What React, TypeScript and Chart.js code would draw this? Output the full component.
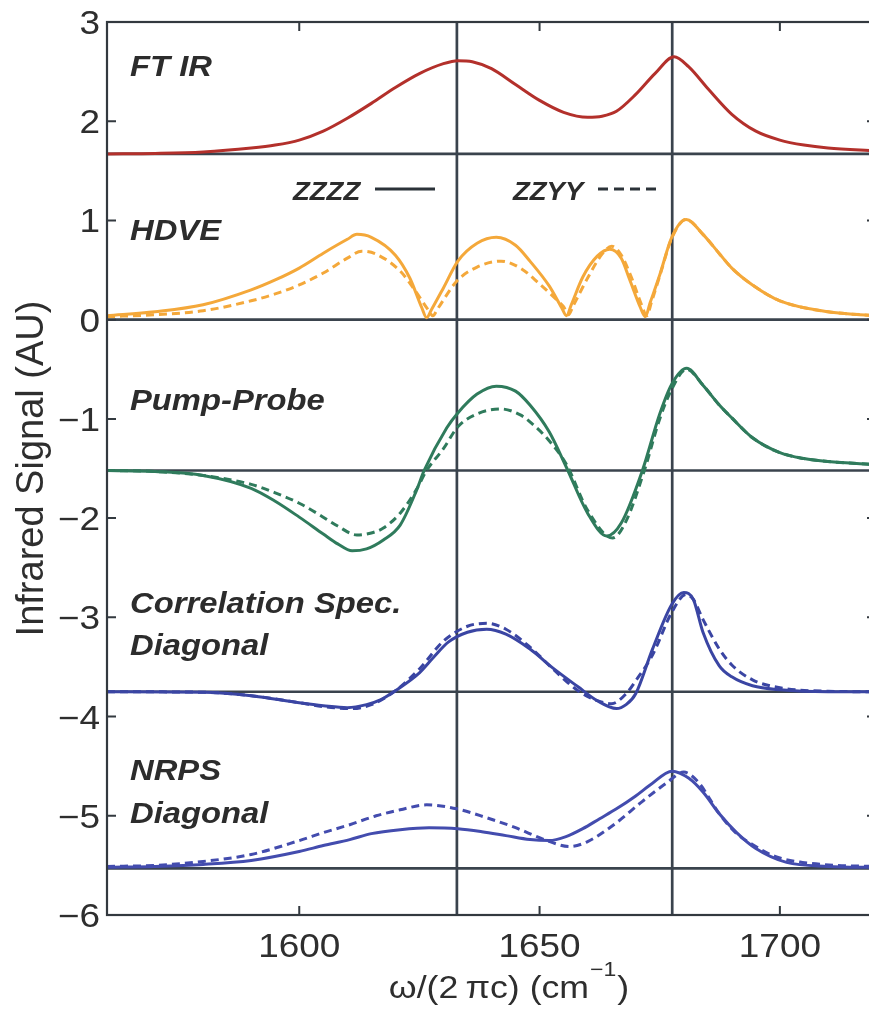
import React, { useEffect, useRef } from "react";
import { Chart, registerables } from "chart.js";

Chart.register(...registerables);

// ---------- axes ----------
const X_MIN = 1560;
const X_MAX = 1720;
const Y_MIN = -6;
const Y_MAX = 3;
const xTicks = [1600, 1650, 1700];
const xTickLabels = ["1600", "1650", "1700"];
const yTicks = [-6, -5, -4, -3, -2, -1, 0, 1, 2, 3];
const yTickLabels = ["−6", "−5", "−4", "−3", "−2", "−1", "0", "1", "2", "3"];
const xTitle = "ω/(2\u2009πc) (cm";
const xTitleSup = "−1";
const yTitle = "Infrared Signal (AU)";

// reference lines
const baselines = [1.67, 0, -1.52, -3.75, -5.53];
const markerLines = [1632.8, 1677.6];

// ---------- FT IR ----------
const ftirX = [1560, 1570, 1580, 1590, 1595, 1600, 1605, 1610, 1615, 1620, 1625, 1630, 1633, 1636, 1640, 1645, 1650, 1655, 1660, 1663, 1666, 1670, 1674, 1678, 1681, 1685, 1690, 1695, 1700, 1705, 1710, 1720];
const ftirY = [1.67, 1.675, 1.69, 1.73, 1.76, 1.81, 1.9, 2.03, 2.18, 2.34, 2.48, 2.58, 2.61, 2.6, 2.53, 2.37, 2.21, 2.09, 2.04, 2.05, 2.1, 2.27, 2.48, 2.65, 2.55, 2.33, 2.07, 1.9, 1.81, 1.76, 1.73, 1.7];

// ---------- HDVE ----------
const hdveZX = [1560, 1570, 1580, 1590, 1595, 1600, 1605, 1610, 1612, 1615, 1620, 1623, 1625.5, 1626.5, 1627.5, 1630, 1633, 1637, 1641, 1645, 1648, 1652, 1654.6, 1655.6, 1656.6, 1659, 1662, 1664.6, 1667, 1668.7, 1671, 1672, 1673, 1675, 1677.5, 1680.5, 1684, 1687.5, 1690, 1694.3, 1700, 1710, 1720];
const hdveZY = [0.04, 0.08, 0.15, 0.3, 0.4, 0.52, 0.67, 0.81, 0.86, 0.83, 0.65, 0.42, 0.12, 0.02, 0.1, 0.32, 0.59, 0.77, 0.83, 0.75, 0.59, 0.34, 0.12, 0.04, 0.15, 0.43, 0.64, 0.71, 0.62, 0.41, 0.12, 0.03, 0.17, 0.45, 0.83, 1.01, 0.86, 0.66, 0.52, 0.35, 0.19, 0.08, 0.04];
const hdveYX = [1560, 1570, 1580, 1590, 1595, 1600, 1605, 1610, 1613, 1616, 1621, 1624, 1626.8, 1627.8, 1628.8, 1632.8, 1637, 1642, 1646, 1650, 1654, 1655, 1656, 1657, 1660, 1663, 1665, 1667, 1669, 1671.3, 1672.3, 1673.3, 1675, 1677.5, 1680.5, 1684, 1687.5, 1690, 1694.3, 1700, 1710, 1720];
const hdveYY = [0.03, 0.05, 0.09, 0.19, 0.26, 0.35, 0.47, 0.62, 0.69, 0.66, 0.49, 0.3, 0.1, 0.04, 0.11, 0.39, 0.53, 0.59, 0.52, 0.36, 0.18, 0.13, 0.05, 0.14, 0.42, 0.66, 0.74, 0.65, 0.44, 0.14, 0.04, 0.18, 0.44, 0.82, 1.01, 0.86, 0.66, 0.52, 0.35, 0.19, 0.08, 0.04];

// ---------- Pump-Probe ----------
const ppZX = [1560, 1570, 1580, 1590, 1595, 1600, 1605, 1608, 1611, 1614, 1617.5, 1621, 1624.4, 1626, 1630.7, 1633, 1637, 1641, 1645, 1648, 1652, 1655.6, 1660, 1664, 1667, 1671.4, 1675, 1677.5, 1680.6, 1684, 1687.4, 1690, 1694.3, 1700, 1705, 1710, 1720];
const ppZY = [-1.52, -1.53, -1.57, -1.7, -1.83, -1.99, -2.16, -2.26, -2.33, -2.31, -2.22, -2.07, -1.72, -1.52, -1.09, -0.94, -0.75, -0.67, -0.72, -0.86, -1.13, -1.49, -1.95, -2.18, -2.05, -1.52, -0.95, -0.65, -0.49, -0.66, -0.86, -0.99, -1.19, -1.34, -1.4, -1.43, -1.46];
const ppYX = [1560, 1570, 1580, 1590, 1595, 1600, 1604, 1608, 1612, 1615, 1617.5, 1621, 1624.4, 1626.5, 1630, 1633, 1637, 1642, 1646, 1648, 1652, 1655.6, 1660, 1665.2, 1668, 1671.8, 1675, 1677.5, 1680.6, 1684, 1687.4, 1690, 1694.3, 1700, 1705, 1710, 1720];
const ppYY = [-1.52, -1.53, -1.57, -1.66, -1.745, -1.85, -1.96, -2.08, -2.17, -2.15, -2.1, -1.95, -1.71, -1.52, -1.3, -1.08, -0.95, -0.9, -0.96, -1.03, -1.22, -1.46, -1.92, -2.2, -2.03, -1.52, -1.0, -0.7, -0.5, -0.66, -0.86, -0.99, -1.19, -1.34, -1.4, -1.43, -1.46];

// ---------- Correlation Spec. Diagonal ----------
const csZX = [1560, 1580, 1590, 1600, 1605, 1610, 1614, 1617, 1620, 1625, 1628, 1631, 1635, 1639, 1643, 1648, 1653, 1658, 1662, 1666, 1668, 1670, 1673.5, 1677.5, 1680, 1682, 1684, 1687.4, 1690, 1694.3, 1700, 1710, 1720];
const csZY = [-3.75, -3.755, -3.79, -3.86, -3.89, -3.91, -3.88, -3.83, -3.74, -3.56, -3.4, -3.25, -3.15, -3.12, -3.17, -3.32, -3.52, -3.7, -3.84, -3.92, -3.88, -3.77, -3.32, -2.87, -2.75, -2.82, -3.15, -3.49, -3.6, -3.69, -3.73, -3.75, -3.75];
const csYX = [1560, 1580, 1590, 1600, 1605, 1611, 1615, 1620, 1625, 1630, 1635, 1639, 1643, 1648, 1653, 1658, 1662, 1665, 1668, 1670, 1673.5, 1677.5, 1680.5, 1682, 1684, 1687.4, 1690, 1694.3, 1700, 1710, 1720];
const csYY = [-3.75, -3.755, -3.79, -3.86, -3.9, -3.92, -3.88, -3.74, -3.52, -3.24, -3.09, -3.06, -3.12, -3.3, -3.53, -3.74, -3.84, -3.87, -3.77, -3.64, -3.38, -2.95, -2.77, -2.82, -3.02, -3.32, -3.48, -3.63, -3.71, -3.745, -3.75];

// ---------- NRPS Diagonal ----------
const nrZX = [1560, 1570, 1580, 1590, 1600, 1605, 1610.5, 1615, 1621, 1627, 1633, 1638, 1643, 1648, 1652, 1655.5, 1659, 1662.5, 1666, 1670, 1673, 1677.6, 1681, 1684, 1687.4, 1691, 1695, 1701.4, 1710, 1720];
const nrZY = [-5.52, -5.51, -5.49, -5.45, -5.36, -5.3, -5.24, -5.18, -5.14, -5.12, -5.13, -5.16, -5.2, -5.24, -5.25, -5.21, -5.13, -5.03, -4.93, -4.8, -4.69, -4.55, -4.62, -4.76, -4.98, -5.17, -5.33, -5.47, -5.51, -5.52];
const nrYX = [1560, 1570, 1580, 1590, 1600, 1605, 1610.5, 1616, 1621, 1626.5, 1632.8, 1639, 1645, 1651, 1656.3, 1660, 1666, 1671, 1676.4, 1680, 1683, 1687.4, 1691, 1694.3, 1699, 1704.7, 1712, 1720];
const nrYY = [-5.51, -5.5, -5.46, -5.39, -5.25, -5.17, -5.09, -5.0, -4.94, -4.89, -4.93, -5.02, -5.12, -5.24, -5.31, -5.26, -5.07, -4.87, -4.67, -4.56, -4.66, -4.98, -5.18, -5.29, -5.41, -5.47, -5.5, -5.51];

// ---------- labels ----------
const panelLabels = ["FT IR", "HDVE", "Pump-Probe", "Correlation Spec.", "Diagonal", "NRPS", "Diagonal"];
const legendLabels = ["ZZZZ", "ZZYY"];

// ---------- styling ----------
const RED = "#b3302b";
const ORANGE = "#f4a83a";
const GREEN = "#2f7b5c";
const BLUE = "#3a45a3";
const BLUE2 = "#434cae";
const AXIS = "#33393f";
const REF = "#3a434d";
const TEXT = "#2c2c2c";

const CANVAS_W = 890;
const CANVAS_H = 1020;

function pts(xs: number[], ys: number[]) {
  return xs.map((x, i) => ({ x, y: ys[i] }));
}

function drawStretched(
  ctx: CanvasRenderingContext2D,
  text: string,
  x: number,
  y: number,
  font: string,
  align: CanvasTextAlign,
  sx: number,
  color: string
) {
  ctx.save();
  ctx.translate(x, y);
  ctx.scale(sx, 1);
  ctx.font = font;
  ctx.fillStyle = color;
  ctx.textAlign = align;
  ctx.textBaseline = "alphabetic";
  ctx.fillText(text, 0, 0);
  ctx.restore();
}

const refLinesPlugin = {
  id: "refLines",
  beforeDatasetsDraw(chart: any) {
    const { ctx, chartArea: a, scales } = chart;
    const xs = scales.x;
    const ys = scales.y;
    ctx.save();
    ctx.strokeStyle = REF;
    ctx.lineWidth = 2.7;
    baselines.forEach((b) => {
      const py = ys.getPixelForValue(b);
      ctx.beginPath();
      ctx.moveTo(a.left, py);
      ctx.lineTo(a.right, py);
      ctx.stroke();
    });
    markerLines.forEach((v) => {
      const px = xs.getPixelForValue(v);
      ctx.beginPath();
      ctx.moveTo(px, a.top);
      ctx.lineTo(px, a.bottom);
      ctx.stroke();
    });
    ctx.restore();
  },
};

const framePlugin = {
  id: "frame",
  afterDraw(chart: any) {
    const { ctx, chartArea: a, scales } = chart;
    const xs = scales.x;
    const ys = scales.y;
    const TL = 9;
    ctx.save();
    // box
    ctx.strokeStyle = AXIS;
    ctx.lineWidth = 2.2;
    ctx.strokeRect(a.left, a.top, a.right - a.left, a.bottom - a.top);
    // inward ticks
    ctx.lineWidth = 2;
    ctx.beginPath();
    xTicks.forEach((v) => {
      const px = xs.getPixelForValue(v);
      ctx.moveTo(px, a.bottom);
      ctx.lineTo(px, a.bottom - TL);
      ctx.moveTo(px, a.top);
      ctx.lineTo(px, a.top + TL);
    });
    yTicks.forEach((v) => {
      const py = ys.getPixelForValue(v);
      ctx.moveTo(a.left, py);
      ctx.lineTo(a.left + TL, py);
      ctx.moveTo(a.right, py);
      ctx.lineTo(a.right - TL, py);
    });
    ctx.stroke();

    // tick labels
    const tickFont = '33px "Liberation Sans", Arial, sans-serif';
    xTicks.forEach((v, i) => {
      drawStretched(ctx, xTickLabels[i], xs.getPixelForValue(v), a.bottom + 42, tickFont, "center", 1.12, "#2e2e2e");
    });
    yTicks.forEach((v, i) => {
      drawStretched(ctx, yTickLabels[i], a.left - 7, ys.getPixelForValue(v) + 12, tickFont, "right", 1.12, "#2e2e2e");
    });

    // y title
    ctx.save();
    ctx.translate(43, (a.top + a.bottom) / 2);
    ctx.rotate(-Math.PI / 2);
    ctx.font = '38px "Liberation Sans", Arial, sans-serif';
    ctx.fillStyle = "#2e2e2e";
    ctx.textAlign = "center";
    ctx.textBaseline = "alphabetic";
    ctx.fillText(yTitle, 0, 0);
    ctx.restore();

    // x title with superscript
    const tFont = '31px "Liberation Sans", Arial, sans-serif';
    const sFont = '20px "Liberation Sans", Arial, sans-serif';
    const sx = 1.15;
    ctx.font = tFont;
    const w1 = ctx.measureText(xTitle).width * sx;
    ctx.font = sFont;
    const w2 = ctx.measureText(xTitleSup).width * sx;
    ctx.font = tFont;
    const w3 = ctx.measureText(")").width * sx;
    const total = w1 + w2 + w3 + 2;
    const cx = 509;
    let x0 = cx - total / 2;
    const by = a.bottom + 83;
    drawStretched(ctx, xTitle, x0, by, tFont, "left", sx, "#2e2e2e");
    x0 += w1 + 1;
    drawStretched(ctx, xTitleSup, x0, by - 22, sFont, "left", sx, "#2e2e2e");
    x0 += w2 + 1;
    drawStretched(ctx, ")", x0, by, tFont, "left", sx, "#2e2e2e");

    // panel labels
    const lf = 'italic bold 29px "Liberation Sans", Arial, sans-serif';
    const lx = a.left + 23;
    const labelBaselines = [76, 240, 410, 613, 655, 780, 823];
    panelLabels.forEach((t, i) => {
      drawStretched(ctx, t, lx, labelBaselines[i], lf, "left", 1.13, TEXT);
    });

    // legend
    const gf = 'italic bold 25px "Liberation Sans", Arial, sans-serif';
    drawStretched(ctx, legendLabels[0], 293, 200, gf, "left", 1.1, TEXT);
    drawStretched(ctx, legendLabels[1], 513, 200, gf, "left", 1.1, TEXT);
    ctx.strokeStyle = "#2b3238";
    ctx.lineWidth = 3;
    ctx.beginPath();
    ctx.moveTo(375, 189);
    ctx.lineTo(435, 189);
    ctx.stroke();
    ctx.setLineDash([10, 6]);
    ctx.beginPath();
    ctx.moveTo(598, 189);
    ctx.lineTo(662, 189);
    ctx.stroke();
    ctx.setLineDash([]);
    ctx.restore();
  },
};

function makeDataset(xs: number[], ys: number[], color: string, dashed: boolean) {
  return {
    data: pts(xs, ys),
    borderColor: color,
    borderWidth: 3,
    borderDash: dashed ? [8, 5] : [],
    pointRadius: 0,
    fill: false,
    tension: 0.4,
    cubicInterpolationMode: "monotone" as const,
  };
}

export default function App() {
  const ref = useRef<HTMLCanvasElement | null>(null);

  useEffect(() => {
    if (!ref.current) return;
    const chart = new Chart(ref.current, {
      type: "line",
      data: {
        datasets: [
          makeDataset(ftirX, ftirY, RED, false),
          makeDataset(hdveZX, hdveZY, ORANGE, false),
          makeDataset(hdveYX, hdveYY, ORANGE, true),
          makeDataset(ppZX, ppZY, GREEN, false),
          makeDataset(ppYX, ppYY, GREEN, true),
          makeDataset(csZX, csZY, BLUE, false),
          makeDataset(csYX, csYY, BLUE, true),
          makeDataset(nrZX, nrZY, BLUE2, false),
          makeDataset(nrYX, nrYY, BLUE2, true),
        ] as any,
      },
      options: {
        responsive: false,
        maintainAspectRatio: false,
        animation: false,
        devicePixelRatio: 1,
        layout: { padding: { left: 107, top: 22, right: CANVAS_W - 876, bottom: CANVAS_H - 915 } },
        plugins: { legend: { display: false }, tooltip: { enabled: false } },
        scales: {
          x: { type: "linear", min: X_MIN, max: X_MAX, display: false },
          y: { type: "linear", min: Y_MIN, max: Y_MAX, display: false },
        },
        events: [],
      },
      plugins: [refLinesPlugin, framePlugin],
    });
    return () => chart.destroy();
  }, []);

  return (
    <div
      style={{
        position: "absolute",
        left: 0,
        top: 0,
        width: 869,
        height: 1020,
        overflow: "hidden",
        background: "#fff",
      }}
    >
      <canvas ref={ref} width={CANVAS_W} height={CANVAS_H} style={{ display: "block" }} />
    </div>
  );
}
